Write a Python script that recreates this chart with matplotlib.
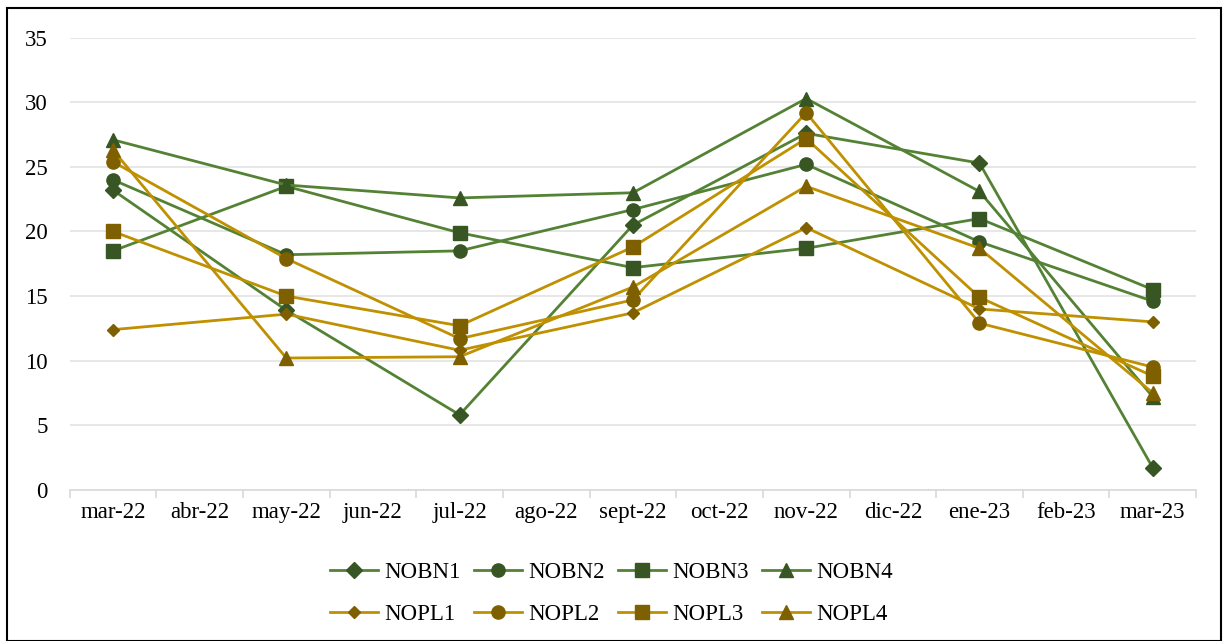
import numpy as np
import matplotlib
matplotlib.use("Agg")
import matplotlib.pyplot as plt
from matplotlib.patches import Rectangle

plt.rcParams['font.family'] = ['Liberation Serif', 'DejaVu Serif']

# categorias del eje x
meses = ['mar-22', 'abr-22', 'may-22', 'jun-22', 'jul-22', 'ago-22', 'sept-22',
         'oct-22', 'nov-22', 'dic-22', 'ene-23', 'feb-23', 'mar-23']
# solo hay datos cada dos meses
idx = [0, 2, 4, 6, 8, 10, 12]

NOBN1 = [23.2, 13.9, 5.8, 20.5, 27.6, 25.3, 1.7]
NOBN2 = [24.0, 18.2, 18.5, 21.7, 25.2, 19.2, 14.6]
NOBN3 = [18.5, 23.5, 19.9, 17.2, 18.7, 21.0, 15.5]
NOBN4 = [27.1, 23.6, 22.6, 23.0, 30.3, 23.1, 7.2]
NOPL1 = [12.4, 13.6, 10.8, 13.7, 20.3, 14.0, 13.0]
NOPL2 = [25.4, 17.9, 11.7, 14.7, 29.2, 12.9, 9.5]
NOPL3 = [20.0, 15.0, 12.7, 18.8, 27.2, 14.9, 8.8]
NOPL4 = [26.3, 10.2, 10.3, 15.7, 23.5, 18.7, 7.5]

verde_l, verde_m = '#548235', '#375623'
oro_l, oro_m = '#BF9000', '#7F6000'

series = [
    ('NOBN1', NOBN1, verde_l, verde_m, 'D', 8.5),
    ('NOBN2', NOBN2, verde_l, verde_m, 'o', 9.5),
    ('NOBN3', NOBN3, verde_l, verde_m, 's', 9.5),
    ('NOBN4', NOBN4, verde_l, verde_m, '^', 9.5),
    ('NOPL1', NOPL1, oro_l, oro_m, 'D', 6.5),
    ('NOPL2', NOPL2, oro_l, oro_m, 'o', 9.5),
    ('NOPL3', NOPL3, oro_l, oro_m, 's', 9.5),
    ('NOPL4', NOPL4, oro_l, oro_m, '^', 9.5),
]

fig = plt.figure(figsize=(12.23, 6.41), dpi=100)
ax = fig.add_axes([0.057, 0.236, 0.921, 0.705])

lineas = []
for nombre, vals, cl, cm, mk, ms in series:
    l, = ax.plot(idx, vals, color=cl, lw=2.0, marker=mk, ms=ms,
                 markerfacecolor=cm, markeredgecolor=cm, label=nombre)
    lineas.append(l)

ax.set_ylim(0, 35)
ax.set_yticks(range(0, 36, 5))
ax.set_xlim(-0.5, 12.5)
ax.set_xticks(range(len(meses)))
ax.set_xticklabels(meses)
ax.set_xticks(np.arange(-0.5, 13, 1), minor=True)
ax.tick_params(axis='x', which='major', length=0, pad=9, labelsize=16.5)
ax.tick_params(axis='x', which='minor', length=6, color='#D9D9D9', width=1.2)
ax.tick_params(axis='y', length=0, pad=16, labelsize=16.5)
ax.grid(axis='y', color='#E3E3E3', lw=1.2)
ax.set_axisbelow(True)
for s in ['top', 'right', 'left']:
    ax.spines[s].set_visible(False)
ax.spines['bottom'].set_color('#D9D9D9')
ax.spines['bottom'].set_linewidth(1.2)

# leyenda por filas: reordenar para ncol=4 (matplotlib llena por columnas)
orden = [0, 4, 1, 5, 2, 6, 3, 7]
fig.legend([lineas[i] for i in orden], [series[i][0] for i in orden],
           loc='center', bbox_to_anchor=(0.5, 0.074), ncol=4, frameon=False,
           fontsize=16.5, handlelength=2.1, columnspacing=0.55, handletextpad=0.3,
           labelspacing=0.9)

fig.patches.append(Rectangle((0.006, 0.0), 0.992, 0.987, transform=fig.transFigure,
                             fill=False, edgecolor='black', lw=1.5))

fig.savefig('out.png', dpi=100)
